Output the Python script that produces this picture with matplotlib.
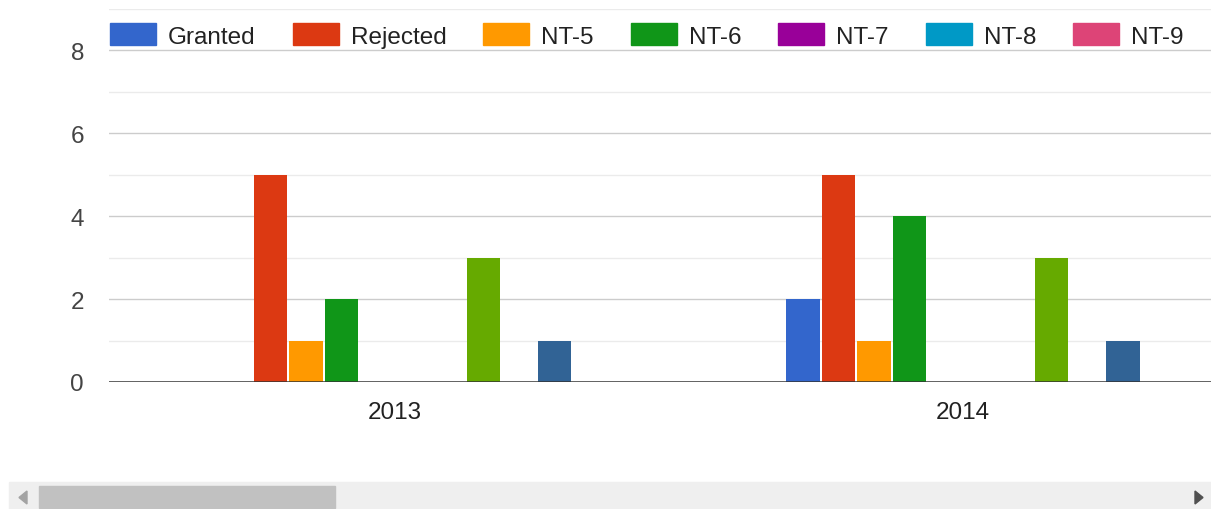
import numpy as np
import matplotlib
matplotlib.use("Agg")
import matplotlib.pyplot as plt
from matplotlib.patches import Rectangle, Polygon

plt.rcParams['font.family'] = ['Liberation Sans', 'DejaVu Sans']

# data
years = ["2013", "2014"]
series_names = ["Granted", "Rejected", "NT-5", "NT-6", "NT-7", "NT-8", "NT-9",
                "NT-10", "NT-11", "NT-12"]
granted = [0, 2]
rejected = [5, 5]
nt5 = [1, 1]
nt6 = [2, 4]
nt7 = [0, 0]
nt8 = [0, 0]
nt9 = [0, 0]
nt10 = [3, 3]
nt11 = [0, 0]
nt12 = [1, 1]
values = [granted, rejected, nt5, nt6, nt7, nt8, nt9, nt10, nt11, nt12]
colors = ["#3366cc", "#dc3912", "#ff9900", "#109618", "#990099", "#0099c6",
          "#dd4477", "#66aa00", "#b82e2e", "#316395"]

W, H = 1211, 510
fig = plt.figure(figsize=(W / 100, H / 100), dpi=100)
ax = fig.add_axes([109 / W, 127 / H, (W - 109) / W, (383 - 10) / H])

x = np.arange(len(years))
pitch = 0.0626
bw = 0.059
n = len(values)
for i, (vals, c) in enumerate(zip(values, colors)):
    ax.bar(x + (i - (n - 1) / 2) * pitch, vals, width=bw, color=c, zorder=3)

ax.set_xlim(-0.503, 1.437)
ax.set_ylim(0, 9)
ax.set_xticks(x)
ax.set_xticklabels(years)
ax.set_yticks([0, 2, 4, 6, 8])
for v in range(1, 10):
    col = "#cccccc" if v % 2 == 0 else "#ebebeb"
    ax.axhline(v, color=col, lw=1.0, zorder=1)
ax.axhline(0, color="#333333", lw=1.8, zorder=4)
for s in ax.spines.values():
    s.set_visible(False)
ax.tick_params(axis='y', length=0, pad=18, labelsize=17.5, labelcolor="#444444")
ax.tick_params(axis='x', length=0, pad=14, labelsize=17.5, labelcolor="#222222")

# legend (the rest runs past the right edge, as in the reference)
fig.canvas.draw()
r = fig.canvas.get_renderer()
lx = 110
for name, c in zip(series_names, colors):
    if lx + 58 > W:
        break
    fig.patches.append(Rectangle((lx / W, 1 - 46 / H), 46 / W, 22 / H,
                                 transform=fig.transFigure, color=c, zorder=5))
    t = fig.text((lx + 58) / W, 1 - 44 / H, name, fontsize=17.5, color="#222222",
                 va="baseline", ha="left", zorder=5)
    tw = t.get_window_extent(renderer=r).width
    lx = lx + 58 + tw + 37

# scrollbar
fig.patches.append(Rectangle((9 / W, 0), (W - 9) / W, 27 / H,
                             transform=fig.transFigure, color="#efefef", zorder=5))
fig.patches.append(Rectangle((39 / W, 1 / H), (335 - 39) / W, 22 / H,
                             transform=fig.transFigure, color="#c1c1c1", zorder=6))
fig.patches.append(Polygon([(27 / W, 5 / H), (27 / W, 18 / H), (19 / W, 11.5 / H)],
                           closed=True, transform=fig.transFigure, color="#a3a3a3", zorder=6))
fig.patches.append(Polygon([(1195 / W, 5 / H), (1195 / W, 18 / H), (1203 / W, 11.5 / H)],
                           closed=True, transform=fig.transFigure, color="#505050", zorder=6))

fig.savefig("out.png", dpi=100)
